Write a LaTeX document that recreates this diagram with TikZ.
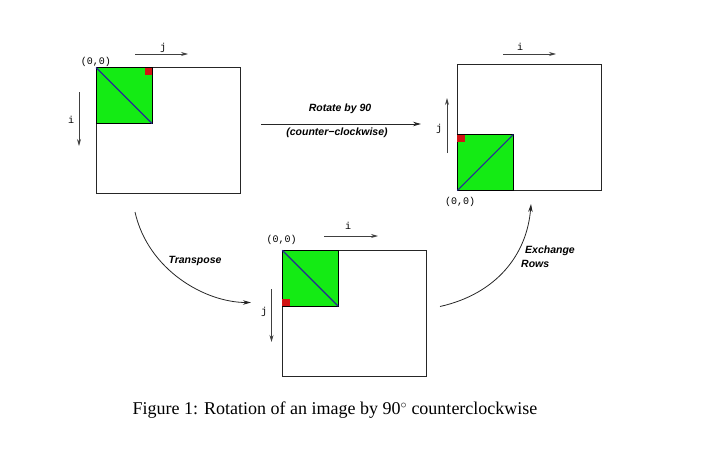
\documentclass[tikz,border=0pt]{standalone}
\usepackage{fontspec}
\setmainfont{Liberation Serif}
\setsansfont{Liberation Sans}
\setmonofont{Liberation Mono}
\usetikzlibrary{arrows.meta}
\definecolor{imggreen}{RGB}{20,235,20}
\definecolor{imgred}{RGB}{210,20,20}
\definecolor{imgnavy}{RGB}{40,40,150}
\begin{document}
\begin{tikzpicture}[x=1pt,y=-1pt,
  frame/.style={draw=black!85,line width=1pt,minimum width=144pt,minimum height=126pt,inner sep=0,outer sep=0,anchor=north west},
  greensq/.style={fill=imggreen,draw=black,line width=0.9pt,minimum size=56pt,inner sep=0,outer sep=0},
  redsq/.style={fill=imgred,minimum size=7.5pt,inner sep=0,outer sep=0},
  diag/.style={draw=imgnavy,line width=1.1pt},
  axis/.style={draw=black!75,line width=0.8pt,-{Stealth[length=7pt,width=4pt]}},
  mono/.style={font=\fontsize{10}{12}\selectfont\ttfamily,inner sep=0},
  lab/.style={font=\fontsize{10.5}{13}\selectfont\sffamily\bfseries\itshape,inner sep=0},
  flow/.style={draw=black!85,line width=0.8pt,-{Stealth[length=8pt,width=4.5pt]}}]
\useasboundingbox (0,0) rectangle (712,463);
% ---------- left image ----------
\node[frame] (A) at (96,67.5) {};
\node[greensq,anchor=north west] (GA) at (A.north west) {};
\node[redsq,anchor=north east] (RA) at (GA.north east) {};
\draw[diag] (GA.north west) -- (GA.south east);
\node[mono] (oA) at (96,61.5) {(0,0)};
\coordinate (jA1) at (135,54); \coordinate (jA2) at (188,54);
\draw[axis] (jA1) -- (jA2);
\node[mono] (jAl) at (163,48) {j};
\coordinate (iA1) at (79,92); \coordinate (iA2) at (79,146);
\draw[axis] (iA1) -- (iA2);
\node[mono] (iAl) at (71,120) {i};
% ---------- right image ----------
\node[frame] (C) at (457.3,64.5) {};
\node[greensq,anchor=south west] (GC) at (C.south west) {};
\node[redsq,anchor=north west] (RC) at (GC.north west) {};
\draw[diag] (GC.south west) -- (GC.north east);
\node[mono] (oC) at (460,201.5) {(0,0)};
\coordinate (iC1) at (503,54); \coordinate (iC2) at (556,54);
\draw[axis] (iC1) -- (iC2);
\node[mono] (iCl) at (520,47) {i};
\coordinate (jC1) at (447,153); \coordinate (jC2) at (447,98);
\draw[axis] (jC1) -- (jC2);
\node[mono] (jCl) at (439,129) {j};
% ---------- bottom image ----------
\node[frame] (B) at (282.3,250.3) {};
\node[greensq,anchor=north west] (GB) at (B.north west) {};
\node[redsq,anchor=south west] (RB) at (GB.south west) {};
\draw[diag] (GB.north west) -- (GB.south east);
\node[mono] (oB) at (281.5,240) {(0,0)};
\coordinate (iB1) at (324,236); \coordinate (iB2) at (378,236);
\draw[axis] (iB1) -- (iB2);
\node[mono] (iBl) at (348,226) {i};
\coordinate (jB1) at (271.5,289); \coordinate (jB2) at (271.5,342);
\draw[axis] (jB1) -- (jB2);
\node[mono] (jBl) at (264,312) {j};
% ---------- transformations ----------
\coordinate (r1) at (261,124); \coordinate (r2) at (421,124);
\draw[flow] (r1) -- (r2);
\node[lab] (rot) at (340,109) {Rotate by 90};
\node[lab] (ccw) at (337,133) {(counter−clockwise)};
\coordinate (t1) at (135,212); \coordinate (t2) at (251,302.5);
\draw[flow] (t1) .. controls (148,270) and (205,302.5) .. (t2);
\node[lab] (tr) at (195,261) {Transpose};
\coordinate (e1) at (440,306.5); \coordinate (e2) at (531,204);
\draw[flow] (e1) .. controls (496,294) and (527,255) .. (e2);
\node[lab,anchor=west] (ex) at (525,250.5) {Exchange};
\node[lab,anchor=west] (rw) at (521,264) {Rows};
% ---------- caption ----------
\node[font=\fontsize{18}{21}\selectfont,inner sep=0] (cap) at (335,410.5) {Figure 1: Rotation of an image by 90$^\circ$ counterclockwise};
\end{tikzpicture}
\end{document}
